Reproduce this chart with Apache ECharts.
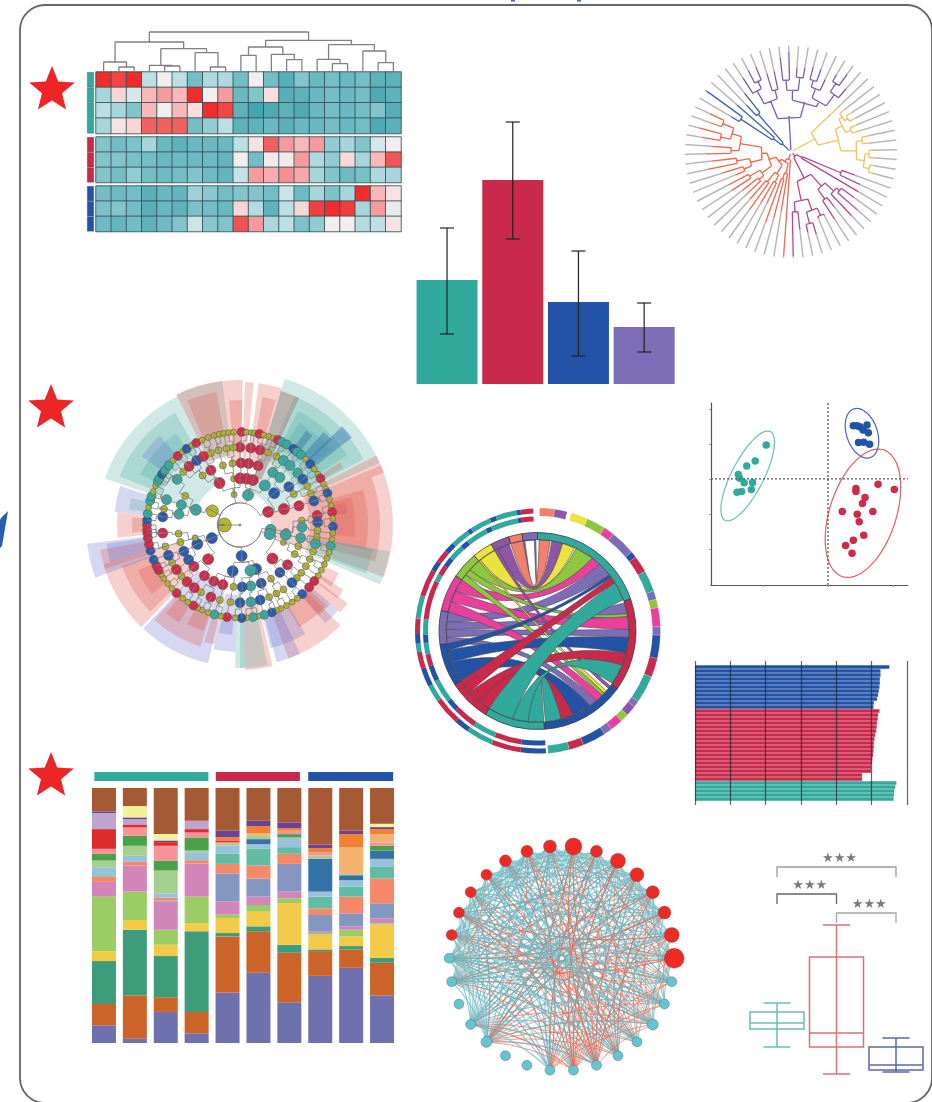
<!DOCTYPE html>
<html><head><meta charset="utf-8">
<style>html,body{margin:0;padding:0;background:#fff}#c{width:932px;height:1102px}</style>
<script src="https://cdn.jsdelivr.net/npm/echarts@6/dist/echarts.min.js"></script>
</head><body><div id="c"></div>
<script>
/* ---------- DATA ---------- */
const heatGroupA=[
[10,9.5,10,5,6,5,3,4.7,4.7,3,6,3,1.5,3.5,2.5,3,2.5,3,2,2],
[4.5,7,5.5,7.5,8,7.5,10,6,8,2.5,3.5,6.7,1.5,2,2.5,3,2.5,3,1,2],
[5,4.5,3.5,7.5,6,7.5,6.7,10,9.5,2,0.5,1,2,1,2.5,3,2.5,3,3.5,1.5],
[4.5,6.5,7,9,9,9,3,4,5,2,2,2.5,1.7,2.5,2.5,3,2.5,3,1,1.8]];
const heatGroupB=[
[3.5,3,3.3,4.5,2.5,2,2.5,2.5,2.5,5,6.5,9,8,7.5,8,4,4.5,3.5,5.5,6],
[3.5,3.5,3.2,3,2.5,2.7,2.7,2.7,2.2,6,3,6.2,6.2,8,4.7,4,6.8,4.5,7.5,9.2],
[3.5,3,4,3,2.8,3,3.5,2.7,2.2,5.2,8,7.7,8.2,7.8,4.5,3.5,2.7,3.2,4.7,4.5]];
const heatGroupC=[
[3,2.7,3,1.7,2.5,2.3,4.3,3.8,3,3.5,3.5,3,5.3,2.7,4.5,3.3,4.5,10,7.5,6.5],
[3.3,3.5,3,1.7,2.5,2,3.2,3,2.5,7,4.8,2,5,7,9.6,10,9.7,4.5,8,5.8],
[2.8,2.3,3,2,2.8,3.5,5.3,3.7,3.5,9.3,8,4.6,5,3.3,4,6.1,6.1,4.8,5,6.5]];
// dendrogram: [height, left, right]; a plain number is a column index
const heatTree=[120,
 [90,[30,0,[15,1,2]],[70,[20,3,[18,4,5]],[58,6,[15,7,8]]]],
 [95,[75,[50,9,10],[53,11,[37,12,13]]],[82,[38,14,[25,15,16]],[63,17,[28,18,19]]]]];

const barNames=['A','B','C','D'];
const barValues=[104,204,82,57];
const barLow=[50,145,28,32];
const barHigh=[156,262,133,81];

// circular tree clades: [radius, ...children]; a plain number is a tip radius
const treePurple=[20,[36,[55,[70,88,[78,92,92]],[64,82,82]],[52,[62,[72,95,100],[75,85,85]],[58,[68,[75,88,88],80],[72,[82,90,96],84]]]]];
const treeYellow=[16,[28,65,[50,[58,[62,68,[66,72,72]],[64,70,70]],[66,[72,78,78],[74,[78,82,82],[80,84,84]]]]]];
const treeMagenta=[6,[12,[54,68,76],78],[18,[30,[46,[58,[62,78,88],88],[58,70,80]],[50,[62,[70,72,72],[74,86,82]],[60,78,104]]]]];
const treeRed=[5,[8,104,[12,[22,60,[28,68,75]],[16,[26,[34,56,60],[38,70,62]],[24,[36,[42,60,62],[48,70,72]],[30,[42,[50,60,72],[55,85,80]],[44,[52,[60,85,80],[62,[72,90,95],[74,85,90]]]]]]]]]];
const treeBlue=[7,[12,[22,[60,70,104],72],[50,65,75]]];

// cladogram nodes per ring, "angle+group"
const cladeRing1="270y";
const cladeRing2="297y 349y 15t 65r 99t 107t 177b 245b";
const cladeRing3="289t 334r 352y 0r 8r 16r 32t 47b 70r 98y 102t 112y 136r 160b 167t 189b 223r 246b 254y";
const cladeRing4="280t 289t 298y 323y 332r 344y 353y 1r 8r 17r 32t 40t 52b 60y 72r 86y 92t 102t 110y 118y 130r 140b 150y 160b 170t 178b 186y 196r 205r 215r 228r 236b 245b 254y 262y";
const cladeRing5="0r 8r 15r 21y 28y 34t 40t 48t 54b 60y 66y 72b 83r 88b 94y 99y 104t 110y 116y 122y 128y 133y 138b 146y 152y 158y 165b 172t 180b 187y 195y 202r 210y 216r 223r 229y 235r 241y 247b 254y 264r 276b 282y 289t 306t 313y 319r 326b 332r 338y 344y 350y 355y";
const cladeRing6="1r 4y 7y 9y 12r 15y 18y 21y 24r 27t 30t 35b 38t 41t 45y 49b 53y 57y 60r 64y 67y 70b 74y 78y 82r 86y 91b 95y 99y 103t 107y 111y 115y 119y 123y 127r 132r 138b 142y 146y 150y 154y 157y 160b 165t 169y 172t 176y 179b 183y 188r 192y 196t 200y 204y 207y 210r 214y 218y 223r 227y 231y 235y 238y 241r 244r 248b 254b 258r 262r 265r 267r 270r 273b 277t 281y 285t 288t 291y 295y 298t 300t 303b 306t 310t 314y 318r 322y 325b 329y 332r 336y 340y 344y 347y 350y 353y 356y";
// highlighted clades: from angle, to angle, inner, outer, group
const cladeWedges=[
[17,66,34,153,'T'],[23,62,70,140,'T'],[27,57,85,128,'T'],[30,50,92,118,'T'],[46,52,90,142,'S'],[42,47,93,125,'S'],[35,39,88,115,'S'],[58,61,98,118,'R'],
[63,70,70,153,'R'],[67,110,31,153,'R'],[70,105,70,140,'R'],[74,101,90,128,'R'],[76,96,92,115,'R'],[78,84,95,108,'R'],[100,113,70,152,'T'],[100,111,90,135,'T'],
[116,124,95,110,'R'],[122,127,95,122,'R'],[126,131,95,133,'R'],[131,139,95,130,'B'],[131,139,95,120,'R'],[135,160,92,142,'R'],[133,150,92,118,'R'],
[149,166,95,127,'B'],[155,165,95,142,'B'],[167,178,80,145,'R'],[169,180,90,143,'T'],[178,182,60,143,'T'],[182,192,70,127,'B'],[184,191,90,110,'B'],[192,197,90,122,'R'],
[193,223,62,142,'B'],[198,222,92,128,'R'],[199,208,92,112,'R'],[212,220,92,115,'R'],[224,254,60,142,'R'],[226,251,92,125,'R'],[232,246,92,112,'R'],
[250,263,92,154,'B'],[252,260,92,142,'R'],[254,262,92,135,'B'],[264,276,92,123,'R'],[266,274,92,108,'R'],[276,288,92,126,'B'],[278,284,92,112,'T'],
[289,334,46,143,'T'],[292,330,85,130,'T'],[297,325,92,112,'T'],[305,318,92,120,'B'],[334,353,70,145,'T'],[334,353,70,145,'R'],[337,350,92,135,'R'],
[353,361,62,145,'R'],[355,361,80,125,'R'],[362,365.5,62,143,'R'],[367.5,377,62,143,'R'],[370,376,90,130,'R'],[377,385,50,140,'T'],[377,385,50,140,'R']];

// chord: arcs [from, to, name] and ribbons [a0, a1, b0, b1, name]
const chordArcs=[[0,71,'teal'],[71,126,'red'],[126,176,'blue'],[176,212,'teal'],[212,237,'red'],[237,262,'blue'],[262,282,'slate'],[282,304,'magenta'],[304,320,'lime'],[320,332,'yellow'],[332,343,'plum'],[343,351,'salmon'],[351,360,'slate']];
const chordLinks=[
[351,359,358,352,'slate'],[1,8,343,351,'salmon'],[9,16,334,342,'plum'],[16,24,321,332,'yellow'],[25,37,312,320,'lime'],[37,43,296,304,'magenta'],[43,52,276,282,'slate'],
[72,79,271,276,'slate'],[79,81,308,312,'lime'],[81,89,289,296,'magenta'],[89,94,266,271,'slate'],
[127,129,332,334,'plum'],[131,133,320,321,'yellow'],[133,135,304,308,'lime'],[135,140,282,289,'magenta'],[140,145,262,266,'slate'],
[94,104,250,258,'blue'],[145,157,237,250,'blue'],[52,54,258,262,'blue'],
[104,112,220,228,'red'],[157,165,212,220,'red'],
[165,175,176,186,'teal'],[112,125,186,196,'teal'],[58,70,196,212,'teal'],[54,58,228,237,'red']];
const chordBandOuter=[[1,8,'salmon'],[8,14,'plum'],[16,24,'yellow'],[24,33,'lime'],[33,38,'magenta'],[38,50,'slate'],[50,53,'blue'],[53,61,'red'],[61,71,'teal'],[71,75,'slate'],[75,79,'lime'],[79,88,'magenta'],[88,92,'slate'],[92,103,'blue'],[103,112,'red'],[112,125,'teal'],[125,128,'slate'],[128,133,'plum'],[133,137,'lime'],[137,143,'magenta'],[143,147,'slate'],[147,158,'blue'],[158,165,'red'],[165,175,'teal']];
const chordLaneOuter=[[176,188,'blue'],[188,202,'red'],[202,215,'teal'],[215,222,'blue'],[222,235,'red'],[235,243,'teal'],[243,252,'blue'],[252,260,'red'],[260,264,'teal'],[264,269,'blue'],[269,276,'red'],[276,287,'teal'],[287,300,'red'],[300,305,'blue'],[305,311,'red'],[311,316,'blue'],[316,325,'teal'],[325,327,'blue'],[327,337,'teal'],[337,340,'blue'],[340,350,'teal'],[350,352,'blue'],[352,358,'red']];
const chordLaneInner=[[176,188,'blue'],[188,202,'red'],[202,214,'teal'],[214,226,'red'],[226,232,'blue'],[232,244,'teal'],[244,252,'blue'],[252,258,'red'],[258,264,'teal'],[264,268,'blue'],[268,276,'teal'],[276,296,'red'],[296,300,'teal'],[300,305,'red'],[305,310,'blue'],[310,318,'teal'],[318,322,'blue'],[322,333,'teal'],[333,336,'blue'],[336,350,'teal'],[350,352,'blue'],[352,358,'red']];

// ordination points
const scatterTeal=[[-0.95,0.97],[-1.12,0.51],[-1.25,0.37],[-1.38,0.13],[-1.36,0.02],[-1.29,-0.11],[-1.16,-0.10],[-1.18,-0.30],[-1.33,-0.36],[-1.40,-0.38]];
const scatterBlue=[[0.39,1.52],[0.49,1.49],[0.60,1.54],[0.54,1.40],[0.62,1.32],[0.47,1.04],[0.55,1.05],[0.64,0.99],[0.45,1.52]];
const scatterRed=[[0.77,-0.15],[1.02,-0.30],[0.43,-0.27],[0.43,-0.36],[0.57,-0.53],[0.53,-0.70],[0.22,-0.93],[0.69,-0.93],[0.45,-1.01],[0.48,-1.22],[0.55,-1.61],[0.39,-1.75],[0.27,-1.90],[0.37,-2.12]];
// ellipses: centre x, centre y, major vector x,y, minor vector x,y
const ellipseTeal=[-1.236,0.086,0.349,1.267,0.22,-0.21];
const ellipseRed=[0.538,-0.98,0.318,1.81,0.487,-0.295];
const ellipseBlue=[0.523,1.305,0.128,-0.695,0.224,0.143];

// horizontal bars
const hbarBlue=[5.5,5.25,5.25,5.23,5.23,5.22,5.2,5.18,5.15,5.06,5.05];
const hbarRed=[5.22,5.18,5.17,5.15,5.14,5.13,5.1,5.08,5.06,5.06,5.05,5.04,5.02,5.0,4.98,4.98,4.73,4.73];
const hbarTeal=[5.7,5.67,5.64,5.63,5.62];

// stacked composition
const stackSlate=[53,13,93,29,151,210,122,201,225,142];
const stackRust=[64,129,44,64,168,124,148,74,55,98];
const stackGreen=[128,197,123,241,10,15,24,5,10,15];
const stackYellow=[30,29,34,25,45,44,124,44,29,99];
const stackLime=[163,85,45,79,10,20,15,5,20,4];
const stackPink=[44,78,84,99,39,25,20,5,10,15];
const stackSteel=[0,0,3,0,84,54,83,49,39,45];
const stackSalmon=[16,11,9,10,29,39,30,20,50,74];
const stackTeal=[4,0,0,0,30,50,20,35,30,35];
const stackSky=[24,18,13,24,25,14,29,15,19,24];
const stackBlue=[0,0,0,0,0,15,0,98,15,25];
const stackMint=[20,30,68,5,5,10,0,10,4,0];
const stackLeaf=[20,30,30,39,0,0,10,0,0,14];
const stackRose=[15,25,44,15,5,0,10,10,0,10];
const stackRed=[59,9,11,10,5,0,0,0,0,0];
const stackLavender=[48,16,0,25,0,0,0,0,0,0];
const stackPeach=[0,0,0,0,0,8,0,0,79,25];
const stackOrange=[0,0,0,0,10,21,8,12,40,15];
const stackViolet=[5,5,5,0,20,16,17,10,10,6];
const stackCream=[0,34,19,0,0,0,0,0,0,10];
const stackBrown=[70,54,138,98,127,98,103,170,128,107];
// group header spans, in column units
const stackGroups=[[-0.31,3.38,'teal'],[3.62,6.34,'red'],[6.61,9.36,'blue']];

// network
const netSizes=[20,15,13,13,14,15,12,17,13,12,12,11,11,11,11,10,10,10,10,11,10,10,10,10,10,10,10,11,10,10];
const netRedEdges={23:[0,1,3,5,6,8,10,12,14,18],24:[2,4,7,9,11,13,15,19],22:[1,2,4,6,9,12],25:[3,7,10,13,16],19:[0,2,3,5,7,9,12,23,25,28,26],16:[1,4,6,8,11,27,29,24],15:[2,5,9,26,28,0,22],18:[5,8,23,24,25,27],14:[0,3,6,29,27,26],13:[1,5,28,26,24],12:[29,27,8,25],11:[0,28,26,24],9:[29,27,23,28],8:[28,24,26],7:[29,23,26,27,24],6:[0,23,27],5:[28,24,26],4:[29,23,25],3:[27,24,22],2:[26,23],1:[28,24],27:[22,24,19],28:[23,22],29:[22,23]};
const netTealEdges={0:[3,4,5,6,8,9,10,12,13,15,16,18,26,27,28],1:[4,5,7,9,10,11,13,14,15,16,19,27],2:[5,6,7,8,10,11,12,14,15,16,18,19,24,25,28],3:[6,7,8,9,11,12,13,15,16,18,19,22,25,26,29],4:[7,8,9,10,12,13,14,16,18,19,24,25,27],5:[8,9,10,11,13,14,15,16,18,19,23,25,27],6:[9,10,11,12,14,15,18,19,22,24,26,28],7:[10,11,12,13,15,16,18,19,22,25,28,29],8:[11,12,13,14,16,18,19,23,25,26,27,29],9:[12,13,14,15,16,18,22,24,26],10:[13,14,15,16,18,19,22,24,25,26,27,28,29],11:[14,15,18,22,23,25,27,29],12:[15,16,18,19,22,24,26,28],13:[16,18,19,23,25,27,29],14:[18,19,22,24,25,28],15:[18,19,22,23,24,25,26,27,28,29],16:[19,22,23,25,26,27,28,29],18:[22,24,26,28],19:[24,27,29]};

// box plots: low, Q1, median, Q3, high
const boxTeal=[33,51,57,68,77];
const boxRed=[6,33,47,123,155];
const boxBlue=[8,10,15,33,42];
// significance brackets: from group, to group, top level, foot level
const brackets=[[0,2,213,203,'#9a9a9a'],[0,1,186,176,'#666'],[1,2,167,157,'#a5a5a5']];

/* ---------- PALETTE ---------- */
const C={teal:'#32a99d',red:'#c9294a',blue:'#2353a6',slate:'#7d6db7',plum:'#8e56a5',salmon:'#f47f6c',yellow:'#ebe340',lime:'#8dc63f',magenta:'#e93f9d'};
const cladeFill={T:'rgba(60,165,155,.24)',R:'rgba(222,80,72,.27)',B:'rgba(90,100,200,.25)',S:'rgba(45,110,175,.42)'};
const cladeNode={y:'#b6b52e',r:'#d22a48',b:'#2a5bad',t:'#35aaa0'};

/* ---------- HELPERS ---------- */
const grid=[],xAxis=[],yAxis=[],polar=[],angleAxis=[],radiusAxis=[],series=[];
const hiddenV=(o)=>Object.assign({type:'value',show:false,scale:false},o);
function panel(x,y,w,h,xa,ya){grid.push({left:x,top:y,width:w,height:h,containLabel:false});xAxis.push(Object.assign({gridIndex:grid.length-1},xa));yAxis.push(Object.assign({gridIndex:grid.length-1},ya));return grid.length-1;}
function polarPanel(cx,cy,r,start,cw){polar.push({center:[cx,cy],radius:r});const i=polar.length-1;angleAxis.push({polarIndex:i,show:false,min:0,max:360,startAngle:start,clockwise:cw!==false,axisLine:{show:false},splitLine:{show:false},axisTick:{show:false},axisLabel:{show:false}});radiusAxis.push({polarIndex:i,show:false,min:0,max:r,axisLine:{show:false},splitLine:{show:false},axisTick:{show:false},axisLabel:{show:false}});return i;}
const BR=['-','-'];
const rad=a=>(a-90)*Math.PI/180;

/* ---------- HEATMAP + DENDROGRAM ---------- */
const heatSeries=[];
function heat(rows,y,h,col){
  const g=panel(96,y,305,h,{type:'category',show:false,data:rows[0].map((_,i)=>i)},{type:'category',show:false,inverse:true,data:rows.map((_,i)=>i)});
  const d=[];rows.forEach((r,j)=>r.forEach((v,i)=>d.push([i,j,v])));
  heatSeries.push(series.length);
  series.push({type:'heatmap',xAxisIndex:g,yAxisIndex:g,data:d,itemStyle:{borderColor:'rgba(50,80,85,.85)',borderWidth:1}});
  const s=panel(87,y,7,h,{type:'category',show:false,data:[0]},{type:'category',show:false,inverse:true,data:rows.map((_,i)=>i)});
  series.push({type:'bar',stack:'s'+s,xAxisIndex:s,yAxisIndex:s,barWidth:'100%',data:rows.map(()=>1),itemStyle:{color:col,borderColor:'rgba(40,60,60,.5)',borderWidth:0.6}});
  xAxis[s]={gridIndex:s,type:'value',show:false,min:0,max:1};
}
heat(heatGroupA,72,61.5,C.teal);heat(heatGroupB,137,45.5,C.red);heat(heatGroupC,186,45.5,C.blue);
const dendG=panel(96,32,305,40,hiddenV({min:0,max:20}),hiddenV({min:0,max:120}));
const dendPts=[];
(function walk(n){if(typeof n==='number')return [n+0.5,0];const a=walk(n[1]),b=walk(n[2]);dendPts.push([a[0],a[1]],[a[0],n[0]],[b[0],n[0]],[b[0],b[1]],BR);return [(a[0]+b[0])/2,n[0]];})(heatTree);
series.push({type:'line',xAxisIndex:dendG,yAxisIndex:dendG,data:dendPts,showSymbol:false,lineStyle:{color:'#808080',width:1.3},clip:false});

/* ---------- BAR + ERROR ---------- */
const barG=panel(414.2,100,262.8,284,{type:'category',show:false,data:barNames},hiddenV({min:0,max:284}));
series.push({type:'bar',xAxisIndex:barG,yAxisIndex:barG,barWidth:61,data:barValues.map((v,i)=>({value:v,itemStyle:{color:[C.teal,C.red,C.blue,C.slate][i]}}))});
series.push({type:'custom',z:6,xAxisIndex:barG,yAxisIndex:barG,data:barNames.map((n,i)=>[i,barLow[i],barHigh[i]]),renderItem(p,api){
  const i=p.dataIndex,a=api.coord([i,barLow[i]]),b=api.coord([i,barHigh[i]]),w=7,st={stroke:'#222',lineWidth:1.2,fill:null};
  return {type:'group',children:[{type:'line',shape:{x1:a[0],y1:a[1],x2:b[0],y2:b[1]},style:st},{type:'line',shape:{x1:a[0]-w,y1:a[1],x2:a[0]+w,y2:a[1]},style:st},{type:'line',shape:{x1:b[0]-w,y1:b[1],x2:b[0]+w,y2:b[1]},style:st}]};}});

/* ---------- CIRCULAR TREE ---------- */
const treeP=polarPanel(791,152,108,123);
const cladeList=[[treePurple,'#7a5cb8'],[treeYellow,'#ecc362'],[treeMagenta,'#b4488f'],[treeRed,'#f2664c'],[treeBlue,'#3f62aa']];
let leafN=0;const countLeaves=n=>typeof n==='number'?1:n.slice(1).reduce((s,c)=>s+countLeaves(c),0);
const leafTotal=cladeList.reduce((s,c)=>s+countLeaves(c[0]),0);
const greyPts=[];
function treeWalk(n,out){
  if(typeof n==='number'){const a=leafN++*360/leafTotal;greyPts.push([n,a],[106,a],BR);return {a,r:n};}
  const kids=n.slice(1).map(k=>treeWalk(k,out));
  kids.forEach(k=>out.push([k.r,k.a],[n[0],k.a],BR));
  const as=kids.map(k=>k.a);out.push([n[0],as[0]],[n[0],as[as.length-1]],BR);
  return {a:(as[0]+as[as.length-1])/2,r:n[0]};
}
const treeLines=[];
cladeList.forEach(c=>{const out=[];const k=treeWalk(c[0],out);out.push([k.r,k.a],[2,k.a]);treeLines.push([out,c[1]]);});
series.push({type:'line',coordinateSystem:'polar',polarIndex:treeP,data:greyPts,showSymbol:false,lineStyle:{color:'#b8b8b8',width:1.5}});
treeLines.forEach(t=>series.push({type:'line',coordinateSystem:'polar',polarIndex:treeP,data:t[0],showSymbol:false,lineStyle:{color:t[1],width:1.3}}));

/* ---------- CLADOGRAM ---------- */
const cladeP=polarPanel(240,525,160,90);
const ringR=[0,15.7,31,46.7,62,77.7,93];
const parseRing=s=>s.split(' ').map(t=>({a:parseFloat(t),g:t.slice(-1)}));
const rings=[[{a:0,g:'y'}],...[cladeRing1,cladeRing2,cladeRing3,cladeRing4,cladeRing5,cladeRing6].map(parseRing)];
series.push({type:'custom',coordinateSystem:'polar',polarIndex:cladeP,data:cladeWedges.map(w=>[w[3],w[0]]),renderItem(p,api){
  const w=cladeWedges[p.dataIndex];
  return {type:'sector',shape:{cx:p.coordSys.cx,cy:p.coordSys.cy,r0:w[2],r:w[3],startAngle:rad(w[0]),endAngle:rad(w[1]),clockwise:true},style:{fill:cladeFill[w[4]]}};}});
const cladeEdges=[];
const angDiff=(a,b)=>(a-b+540)%360-180;
for(let k=2;k<rings.length;k++){
  rings[k].forEach(n=>{
    let best=rings[k-1][0];rings[k-1].forEach(m=>{if(Math.abs(angDiff(n.a,m.a))<Math.abs(angDiff(n.a,best.a)))best=m;});
    const r0=ringR[k-1],r1=ringR[k],mid=r0+(r1-r0)*0.42;
    cladeEdges.push([r1,n.a]);
    const d=angDiff(n.a,best.a);const steps=Math.max(1,Math.ceil(Math.abs(d)/8));
    for(let i=0;i<=steps;i++)cladeEdges.push([mid,best.a+d*(1-i/steps)]);
    cladeEdges.push([r0,best.a],BR);
  });
}
cladeEdges.push([ringR[1],270],[0,0],BR);
series.push({type:'line',coordinateSystem:'polar',polarIndex:cladeP,data:cladeEdges,showSymbol:false,lineStyle:{color:'#7f7f7f',width:0.8}});
const ringSize=[[2,2],[14,14],[6,11],[6,11],[7,10],[7,10],[6,9]];
const cladePts=[];
rings.forEach((ring,k)=>ring.forEach(n=>{
  const size=(k===2&&n.a===297)?12:ringSize[k][n.g==='y'?0:1];
  cladePts.push({value:[ringR[k],n.a],symbolSize:size,itemStyle:{color:cladeNode[n.g],borderColor:'#555',borderWidth:0.6,opacity:1}});
}));
series.push({type:'scatter',coordinateSystem:'polar',polarIndex:cladeP,data:cladePts});

/* ---------- CHORD ---------- */
const chordP=polarPanel(537.5,631,125,90);
function sectors(list,r0,r1,extra){
  series.push({type:'custom',coordinateSystem:'polar',polarIndex:chordP,data:list.map(s=>[r1,s[0]]),renderItem(p){
    const s=list[p.dataIndex];
    return {type:'sector',shape:{cx:p.coordSys.cx,cy:p.coordSys.cy,r0,r:r1,startAngle:rad(s[0]),endAngle:rad(s[1]),clockwise:true},style:Object.assign({fill:C[s[2]]},extra||{})};}});
}
const chordR=91;
series.push({type:'custom',coordinateSystem:'polar',polarIndex:chordP,data:chordLinks.map(l=>[chordR,l[0]]),renderItem(p,api){
  const l=chordLinks[p.dataIndex],pts=[],c=api.coord([0,0]);
  const arc=(a,b)=>{for(let i=0;i<=8;i++)pts.push(api.coord([chordR,a+(b-a)*i/8]));};
  const quad=(a,b)=>{const A=api.coord([chordR,a]),B=api.coord([chordR,b]);
    const sep=Math.abs(angDiff(a,b)),f=Math.min(0.22,Math.max(0,(sep-50)/200));
    const cx=c[0]+((A[0]+B[0])/2-c[0])*f,cy=c[1]+((A[1]+B[1])/2-c[1])*f;
    for(let i=1;i<16;i++){const t=i/16,u=1-t;pts.push([u*u*A[0]+2*u*t*cx+t*t*B[0],u*u*A[1]+2*u*t*cy+t*t*B[1]]);}};
  arc(l[0],l[1]);quad(l[1],l[2]);arc(l[2],l[3]);quad(l[3],l[0]);
  return {type:'polygon',shape:{points:pts},style:{fill:C[l[4]],stroke:'#4a4a4a',lineWidth:0.6}};}});
sectors(chordArcs,91.5,98.5,{stroke:'#3a3a3a',lineWidth:0.8});
sectors(chordBandOuter,115,123,{stroke:'rgba(255,255,255,.35)',lineWidth:0.5});
sectors(chordLaneOuter,117.5,122.5);
sectors(chordLaneInner,109.5,114.5);

/* ---------- ORDINATION ---------- */
const scG=panel(711,403,197,182,
 {type:'value',min:-1.8,max:1.231,axisLine:{show:true,onZero:false,lineStyle:{color:'#555',width:1.2}},axisTick:{show:true,length:2,customValues:[-1,0,1],lineStyle:{color:'#999'}},axisLabel:{show:false},splitLine:{show:false}},
 {type:'value',min:-3.03,max:2.17,axisLine:{show:true,onZero:false,lineStyle:{color:'#555',width:1.2}},axisTick:{show:true,length:2,customValues:[-2,-1,0,1,2],lineStyle:{color:'#999'}},axisLabel:{show:false},splitLine:{show:false}});
const dot={color:'#555',width:1.3,type:[2,2]};
series.push({type:'line',xAxisIndex:scG,yAxisIndex:scG,data:[[-1.8,0],[1.231,0]],showSymbol:false,lineStyle:dot});
series.push({type:'line',xAxisIndex:scG,yAxisIndex:scG,data:[[0,-3.03],[0,2.17]],showSymbol:false,lineStyle:dot});
[[ellipseTeal,'#6cc1b8'],[ellipseRed,'#e0625c'],[ellipseBlue,'#4a63b8']].forEach(e=>{
  series.push({type:'custom',xAxisIndex:scG,yAxisIndex:scG,data:[[e[0][0],e[0][1]]],renderItem(p,api){
    const v=e[0],pts=[];for(let i=0;i<72;i++){const t=i/72*2*Math.PI;pts.push(api.coord([v[0]+Math.cos(t)*v[2]+Math.sin(t)*v[4],v[1]+Math.cos(t)*v[3]+Math.sin(t)*v[5]]));}
    return {type:'polygon',shape:{points:pts},style:{fill:'none',stroke:e[1],lineWidth:1.2}};}});
});
[[scatterTeal,C.teal],[scatterBlue,C.blue],[scatterRed,'#cf2a48']].forEach(s=>series.push({type:'scatter',xAxisIndex:scG,yAxisIndex:scG,data:s[0],symbolSize:7.5,itemStyle:{color:s[1],opacity:1}}));

/* ---------- HORIZONTAL BARS ---------- */
const hRows=[null,...hbarBlue,...hbarRed,...hbarTeal,null];
const hG=panel(695,661,212,144,{type:'value',min:0,max:6,interval:1,z:10,axisLine:{show:false},axisTick:{show:false},axisLabel:{show:false},splitLine:{show:true,lineStyle:{color:'rgba(30,40,50,.72)',width:1.2}}},
 {type:'category',inverse:true,show:false,data:hRows.map((_,i)=>i)});
series.push({type:'bar',xAxisIndex:hG,yAxisIndex:hG,barCategoryGap:'7%',data:hRows.map((v,i)=>v==null?null:{value:v,itemStyle:{color:i<=hbarBlue.length?C.blue:i<=hbarBlue.length+hbarRed.length?C.red:C.teal}})});

/* ---------- STACKED COMPOSITION ---------- */
const stG=panel(88.5,788,309,255,{type:'category',show:false,data:stackSlate.map((_,i)=>i)},hiddenV({min:0,max:763}));
[[stackSlate,'#6f71ae'],[stackRust,'#cc6328'],[stackGreen,'#3d9c7a'],[stackYellow,'#f3cb49'],[stackLime,'#9bcd65'],[stackPink,'#d285b8'],[stackSteel,'#8497c0'],[stackSalmon,'#f6886a'],[stackTeal,'#62bca3'],[stackSky,'#97c2d9'],[stackBlue,'#3473a8'],[stackMint,'#a5d18e'],[stackLeaf,'#4ba04a'],[stackRose,'#f69396'],[stackRed,'#de2c2c'],[stackLavender,'#bca5cf'],[stackPeach,'#f5b16f'],[stackOrange,'#f58030'],[stackViolet,'#6a4298'],[stackCream,'#f3f09c'],[stackBrown,'#a65a34']].forEach(s=>
  series.push({type:'bar',stack:'comp',xAxisIndex:stG,yAxisIndex:stG,barWidth:24,data:s[0],itemStyle:{color:s[1]}}));
const hdG=panel(88.5,772,309,9,hiddenV({min:-0.5,max:9.5}),hiddenV({min:0,max:1}));
series.push({type:'custom',xAxisIndex:hdG,yAxisIndex:hdG,data:stackGroups.map(g=>[g[0],g[1]]),renderItem(p,api){
  const g=stackGroups[p.dataIndex],a=api.coord([g[0],1]),b=api.coord([g[1],0]);
  return {type:'rect',shape:{x:a[0],y:a[1],width:b[0]-a[0],height:b[1]-a[1]},style:{fill:C[g[2]]}};}});

/* ---------- NETWORK ---------- */
const netP=polarPanel(561.7,958.3,112.5,0,false);
const TEAL_EDGE='#6cb8c4',RED_EDGE='#f2654d';
const flatEdges=(o,col)=>Object.keys(o).flatMap(k=>o[k].map(j=>[+k,j,col]));
const tealList=flatEdges(netTealEdges,TEAL_EDGE),redList=flatEdges(netRedEdges,RED_EDGE);
const netEdges=[];
{const n=Math.max(tealList.length,redList.length),stepR=redList.length/n,stepT=tealList.length/n;let r=0,t=0;
 for(let i=0;i<n;i++){while(r<(i+1)*stepR&&redList[Math.floor(r)]){netEdges.push(redList[Math.floor(r)]);r+=1;}
  while(t<(i+1)*stepT&&tealList[Math.floor(t)]){netEdges.push(tealList[Math.floor(t)]);t+=1;}}}
series.push({type:'custom',coordinateSystem:'polar',polarIndex:netP,data:netEdges.map(e=>[112.5,e[0]*12]),renderItem(p,api){
  const e=netEdges[p.dataIndex],A=api.coord([112.5,e[0]*12]),B=api.coord([112.5,e[1]*12]),c=api.coord([0,0]);
  const mx=(A[0]+B[0])/2,my=(A[1]+B[1])/2,dx=B[0]-A[0],dy=B[1]-A[1],k=0.13;
  let nx=-dy,ny=dx;const toward=(c[0]-mx)*nx+(c[1]-my)*ny;if(toward<0){nx=-nx;ny=-ny;}
  return {type:'bezierCurve',shape:{x1:A[0],y1:A[1],x2:B[0],y2:B[1],cpx1:mx+nx*k,cpy1:my+ny*k},style:{fill:null,stroke:e[2],lineWidth:e[2]===RED_EDGE?0.9:1.2,opacity:e[2]===RED_EDGE?0.75:0.72}};}});
series.push({type:'scatter',coordinateSystem:'polar',polarIndex:netP,data:netSizes.map((s,i)=>({value:[112.5,i*12],symbolSize:s,itemStyle:{color:i<15?'#ee2a24':'#63c4d2',borderColor:'rgba(90,90,90,.55)',borderWidth:0.7,opacity:1}}))});

/* ---------- BOX PLOTS ---------- */
const bxG=panel(747.25,850,178.5,230,{type:'category',show:false,data:['A','B','C']},hiddenV({min:0,max:230}));
const boxes=[[boxTeal,'#6dbdb4'],[boxRed,'#dc7070'],[boxBlue,'#5b66b5']];
series.push({type:'custom',xAxisIndex:bxG,yAxisIndex:bxG,data:boxes.map((b,i)=>[i,b[0][2]]),renderItem(p,api){
  const i=p.dataIndex,v=boxes[i][0].map(d=>api.coord([i,d])),x=v[0][0],st={stroke:boxes[i][1],lineWidth:1.5,fill:null},hw=27,cw=13.5;
  const ln=(x1,y1,x2,y2)=>({type:'line',shape:{x1,y1,x2,y2},style:st});
  return {type:'group',children:[ln(x,v[0][1],x,v[4][1]),ln(x-cw,v[0][1],x+cw,v[0][1]),ln(x-cw,v[4][1],x+cw,v[4][1]),
    {type:'rect',shape:{x:x-hw,y:v[3][1],width:2*hw,height:v[1][1]-v[3][1]},style:st},ln(x-hw,v[2][1],x+hw,v[2][1])]};}});
series.push({type:'custom',xAxisIndex:bxG,yAxisIndex:bxG,data:brackets.map(b=>[b[0],b[2]]),renderItem(p,api){
  const b=brackets[p.dataIndex],A=api.coord([b[0],b[2]]),B=api.coord([b[1],b[2]]),f=api.coord([b[0],b[3]]);
  return {type:'group',children:[{type:'polyline',shape:{points:[[A[0],f[1]],A,B,[B[0],f[1]]]},style:{stroke:b[4],lineWidth:1.3,fill:null}},
   {type:'text',style:{text:'★★★',x:(A[0]+B[0])/2+3,y:A[1]-8,fill:'#7a7a7a',font:'13px "DejaVu Sans"',textAlign:'center',textVerticalAlign:'middle'}}]};}});

/* ---------- FRAME + STARS ---------- */
function starPts(cx,cy,R){const o=[];for(let i=0;i<10;i++){const r=i%2?R*0.44:R,t=-Math.PI/2+i*Math.PI/5;o.push([cx+r*Math.cos(t),cy+r*Math.sin(t)]);}return o;}
const graphic=[
 {type:'rect',z:-1,shape:{x:20,y:5,width:912,height:1098,r:25},style:{fill:'#fff',stroke:'#666',lineWidth:1.8},silent:true},
 {type:'polygon',z:0,shape:{points:[[8,511],[1,518],[0,520],[0,548],[2,546]]},style:{fill:'#2a5dab'}},
 {type:'rect',shape:{x:511,y:0,width:4,height:1.6},style:{fill:'#3f6fc0'}},
 {type:'rect',shape:{x:577,y:0,width:4,height:1.6},style:{fill:'#3f6fc0'}},
 ...[[52,90],[51,408],[51,776]].map(p=>({type:'polygon',shape:{points:starPts(p[0],p[1],24)},style:{fill:'#ee2527'}}))
];

/* ---------- RENDER ---------- */
const chart=echarts.init(document.getElementById('c'),null,{renderer:'canvas'});
chart.setOption({animation:false,backgroundColor:'#fff',grid,xAxis,yAxis,polar,angleAxis,radiusAxis,series,graphic,
 tooltip:{show:false},
 visualMap:[{show:false,type:'continuous',min:0,max:10,seriesIndex:heatSeries,inRange:{color:['#3a9ea8','#4faab3','#5fb2ba','#74bdc5','#92cbd1','#bcdfe3','#f2eeee','#f9d5d6','#f69a9e','#f45f60','#f02c2c']}}]});
</script></body></html>
